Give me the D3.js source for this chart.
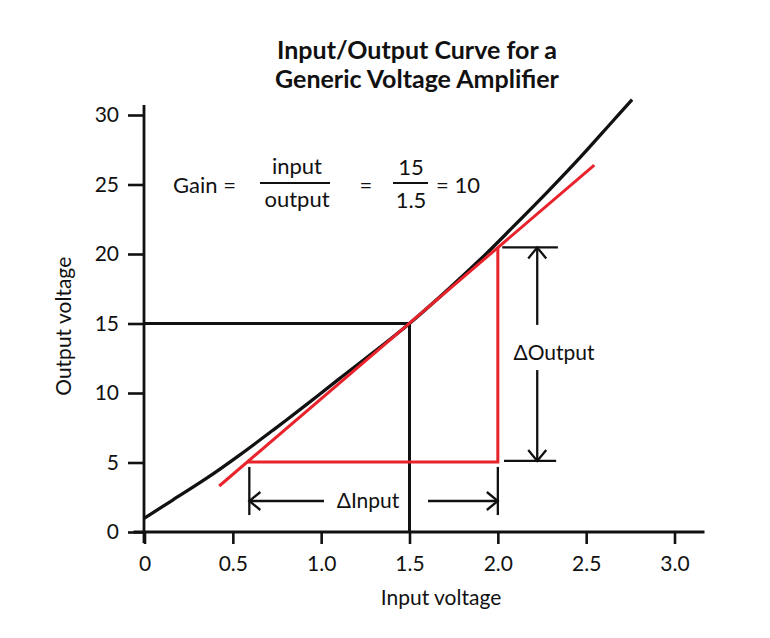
<!DOCTYPE html>
<html>
<head>
<meta charset="utf-8">
<script src="https://cdn.jsdelivr.net/npm/d3@7"></script>
<style>
  html, body { margin: 0; padding: 0; background: #fff; }
  svg text { font-family: Lato, "Open Sans", sans-serif; fill: #111; }
</style>
</head>
<body>
<svg id="chart" width="770" height="638"></svg>
<script>
// ---------- data ----------
const titleLines = ["Input/Output Curve for a", "Generic Voltage Amplifier"];
const xLabel = "Input voltage";
const yLabel = "Output voltage";
const xTicks = [0, 0.5, 1.0, 1.5, 2.0, 2.5, 3.0];
const xTickLabels = ["0", "0.5", "1.0", "1.5", "2.0", "2.5", "3.0"];
const yTicks = [0, 5, 10, 15, 20, 25, 30];
// transfer curve (input V, output V)
const curveX = [0, 0.16, 0.35, 0.54, 0.73, 0.92, 1.1, 1.5, 1.9, 2.09, 2.28, 2.47, 2.65, 2.76];
const curveY = [1.0, 2.3, 3.85, 5.55, 7.35, 9.2, 11.0, 15.0, 19.6, 22.0, 24.45, 27.0, 29.55, 31.1];
// tangent (red) line end points
const tangentX = [0.423, 2.546];
const tangentY = [3.31, 26.4];
// operating point
const opX = 1.5, opY = 15;
// delta triangle (red)
const deltaX = [0.582, 2.0, 2.0];
const deltaY = [5.04, 5.04, 20.47];
// gain formula values
const gainParts = { num: "input", den: "output", numV: "15", denV: "1.5", result: "= 10" };

// ---------- scales ----------
const svg = d3.select("#chart");
const x = d3.scaleLinear().domain([0, 3]).range([144.5, 674.5]);
const y = d3.scaleLinear().domain([0, 30]).range([532, 115]);

const black = "#111";
const red = "#e8232b";
const FS = "21px";
const FG = "22px";

// ---------- title ----------
svg.append("text").attr("x", 417).attr("y", 59).attr("text-anchor", "middle")
  .style("font-weight", "700").style("font-size", "25px").text(titleLines[0]);
svg.append("text").attr("x", 417).attr("y", 88).attr("text-anchor", "middle")
  .style("font-weight", "700").style("font-size", "25px").text(titleLines[1]);

// ---------- axes ----------
const yAxis = d3.axisLeft(y).tickValues(yTicks).tickSize(16).tickSizeOuter(0).tickPadding(9)
  .tickFormat(d3.format("d"));
const gy = svg.append("g").attr("transform", `translate(${x(0) - 0.5},0)`).call(yAxis);
gy.select(".domain").remove();
gy.selectAll(".tick line").attr("stroke", black).attr("stroke-width", 2.6);
gy.selectAll(".tick text").style("font-size", FS).attr("fill", black).style("font-family", "Lato, sans-serif");

const xAxis = d3.axisBottom(x).tickValues(xTicks).tickSize(12).tickSizeOuter(0).tickPadding(12)
  .tickFormat((d, i) => xTickLabels[i]);
const gx = svg.append("g").attr("transform", `translate(0,${y(0)})`).call(xAxis);
gx.select(".domain").remove();
gx.selectAll(".tick line").attr("stroke", black).attr("stroke-width", 2.6);
gx.selectAll(".tick text").style("font-size", FS).attr("fill", black).style("font-family", "Lato, sans-serif");

// axis lines
svg.append("line").attr("x1", x(0) - 0.5).attr("x2", x(0) - 0.5)
  .attr("y1", y(30) - 10).attr("y2", y(0) + 11)
  .attr("stroke", black).attr("stroke-width", 2.8);
svg.append("line").attr("x1", x(0) - 11).attr("x2", x(3) + 30)
  .attr("y1", y(0)).attr("y2", y(0))
  .attr("stroke", black).attr("stroke-width", 2.8);

// axis labels
svg.append("text").attr("x", 441).attr("y", 605).attr("text-anchor", "middle")
  .style("font-size", FS).text(xLabel);
svg.append("text").attr("transform", `translate(71,${y(14.8)}) rotate(-90)`).attr("text-anchor", "middle")
  .style("font-size", FS).text(yLabel);

// ---------- operating point guides ----------
svg.append("path")
  .attr("d", `M${x(0)},${y(opY)} H${x(opX)} V${y(0)}`)
  .attr("fill", "none").attr("stroke", black).attr("stroke-width", 3);

// ---------- curve ----------
const curvePts = curveX.map((v, i) => [v, curveY[i]]);
svg.append("path").datum(curvePts)
  .attr("d", d3.line().x(d => x(d[0])).y(d => y(d[1])).curve(d3.curveCatmullRom.alpha(0.5)))
  .attr("fill", "none").attr("stroke", black).attr("stroke-width", 3.3);

// ---------- tangent & delta triangle ----------
svg.append("line")
  .attr("x1", x(tangentX[0])).attr("y1", y(tangentY[0]))
  .attr("x2", x(tangentX[1])).attr("y2", y(tangentY[1]))
  .attr("stroke", red).attr("stroke-width", 3);
const tri = deltaX.map((v, i) => [v, deltaY[i]]);
svg.append("path").datum(tri)
  .attr("d", d3.line().x(d => x(d[0])).y(d => y(d[1])))
  .attr("fill", "none").attr("stroke", red).attr("stroke-width", 3);

// ---------- ΔInput annotation ----------
function chevron(px, py, dir) {
  const L = 11, W = 9;
  let p;
  if (dir === "left") p = `M${px + L},${py - W} L${px},${py} L${px + L},${py + W}`;
  if (dir === "right") p = `M${px - L},${py - W} L${px},${py} L${px - L},${py + W}`;
  if (dir === "up") p = `M${px - W},${py + L} L${px},${py} L${px + W},${py + L}`;
  if (dir === "down") p = `M${px - W},${py - L} L${px},${py} L${px + W},${py - L}`;
  svg.append("path").attr("d", p).attr("fill", "none").attr("stroke", black).attr("stroke-width", 2.3);
}
const inYTop = y(4.68), inYBot = y(1.22), inYMid = y(2.23);
const inL = x(deltaX[0]) + 2, inR = x(deltaX[1]);
[inL, inR].forEach(px => {
  svg.append("line").attr("x1", px).attr("x2", px)
    .attr("y1", inYTop).attr("y2", inYBot).attr("stroke", black).attr("stroke-width", 2.3);
});
svg.append("line").attr("x1", inL).attr("x2", 324).attr("y1", inYMid).attr("y2", inYMid)
  .attr("stroke", black).attr("stroke-width", 2.3);
svg.append("line").attr("x1", 428).attr("x2", inR).attr("y1", inYMid).attr("y2", inYMid)
  .attr("stroke", black).attr("stroke-width", 2.3);
chevron(inL, inYMid, "left");
chevron(inR, inYMid, "right");
svg.append("text").attr("x", 368).attr("y", inYMid + 7).attr("text-anchor", "middle")
  .style("font-size", FS).text("\u0394Input");

// ---------- ΔOutput annotation ----------
const outX = x(2.223);
svg.append("line").attr("x1", x(2.025)).attr("x2", x(2.34)).attr("y1", y(deltaY[2])).attr("y2", y(deltaY[2]))
  .attr("stroke", black).attr("stroke-width", 2.3);
svg.append("line").attr("x1", x(2.035)).attr("x2", x(2.33)).attr("y1", y(deltaY[0]) - 1).attr("y2", y(deltaY[0]) - 1)
  .attr("stroke", black).attr("stroke-width", 2.3);
svg.append("line").attr("x1", outX).attr("x2", outX).attr("y1", y(deltaY[2])).attr("y2", y(14.9))
  .attr("stroke", black).attr("stroke-width", 2.3);
svg.append("line").attr("x1", outX).attr("x2", outX).attr("y1", y(11.65)).attr("y2", y(deltaY[0]) - 1)
  .attr("stroke", black).attr("stroke-width", 2.3);
chevron(outX, y(deltaY[2]), "up");
chevron(outX, y(deltaY[0]) - 1, "down");
svg.append("text").attr("x", 554).attr("y", 360).attr("text-anchor", "middle")
  .style("font-size", FS).text("\u0394Output");

// ---------- Gain formula ----------
const gY = 183;
svg.append("text").attr("x", 173).attr("y", gY + 10).style("font-size", FG).text("Gain =");
svg.append("line").attr("x1", 260).attr("x2", 330).attr("y1", gY).attr("y2", gY).attr("stroke", black).attr("stroke-width", 1.8);
svg.append("text").attr("x", 297).attr("y", gY - 9).attr("text-anchor", "middle").style("font-size", FG).text(gainParts.num);
svg.append("text").attr("x", 297).attr("y", gY + 24).attr("text-anchor", "middle").style("font-size", FG).text(gainParts.den);
svg.append("text").attr("x", 366).attr("y", gY + 10).attr("text-anchor", "middle").style("font-size", FG).text("=");
svg.append("line").attr("x1", 393).attr("x2", 428).attr("y1", gY).attr("y2", gY).attr("stroke", black).attr("stroke-width", 1.8);
svg.append("text").attr("x", 411).attr("y", gY - 8).attr("text-anchor", "middle").style("font-size", FG).text(gainParts.numV);
svg.append("text").attr("x", 411).attr("y", gY + 25).attr("text-anchor", "middle").style("font-size", FG).text(gainParts.denV);
svg.append("text").attr("x", 436).attr("y", gY + 10).style("font-size", FG).text(gainParts.result);
</script>
</body>
</html>
